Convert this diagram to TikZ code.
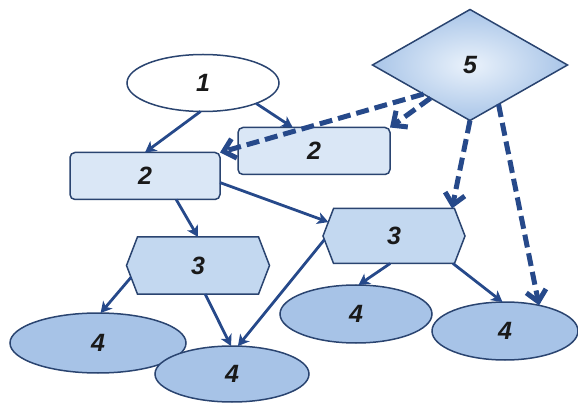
\documentclass[tikz,border=0pt]{standalone}
\usepackage{fontspec}
\setmainfont{Liberation Sans}
\usetikzlibrary{shapes.geometric,shapes.symbols,arrows.meta,calc}
\definecolor{ln}{HTML}{26498A}
\definecolor{edge}{HTML}{2A4470}
\definecolor{rectfill}{HTML}{DAE7F6}
\definecolor{hexfill}{HTML}{C3D8F0}
\definecolor{ellfill}{HTML}{A7C3E7}
\definecolor{diaout}{HTML}{A9C5E8}
\definecolor{diain}{HTML}{EAF2FB}
\tikzset{
  every node/.style={font=\fontsize{25}{25}\selectfont\bfseries\itshape, text=black!90, outer sep=0pt},
  shapeline/.style={draw=edge, line width=1.5pt},
  oval/.style={shapeline, ellipse, inner sep=0pt},
  box/.style={shapeline, rectangle, rounded corners=5pt, fill=rectfill, inner sep=0pt},
  hexa/.style={shapeline, signal, signal to=east and west, signal pointer angle=138, fill=hexfill, inner sep=0pt},
  rhomb/.style={shapeline, diamond, inner sep=0pt, inner color=diain, outer color=diaout},
  link/.style={draw=ln, line width=2.8pt, -{Stealth[length=11pt,width=12pt,inset=3pt]}},
  dlink/.style={draw=ln, line width=5pt, dash pattern=on 13pt off 6pt, -{Straight Barb[length=11pt,width=20pt,line width=5pt]}},
}
\begin{document}
\begin{tikzpicture}[x=1pt,y=-1pt]
\useasboundingbox (0,0) rectangle (578,403);
% nodes
\node[oval, fill=white, minimum width=152pt, minimum height=57pt] (e1) at (203,83) {1};
\node[rhomb, minimum width=195pt, minimum height=111pt] (d5) at (470,65) {5};
\node[box, minimum width=152pt, minimum height=47pt] (r2b) at (314,151) {2};
\node[box, minimum width=150pt, minimum height=47pt] (r2a) at (145,176) {2};
\node[hexa, minimum width=143pt, minimum height=57pt] (h3a) at (198,265.5) {3};
\node[hexa, minimum width=142pt, minimum height=55pt] (h3b) at (394,236) {3};
\node[oval, fill=ellfill, minimum width=176pt, minimum height=60pt] (e4a) at (98,343) {4};
\node[oval, fill=ellfill, minimum width=154pt, minimum height=56pt] (e4b) at (232,374) {4};
\node[oval, fill=ellfill, minimum width=152pt, minimum height=58pt] (e4c) at (356,314) {4};
\node[oval, fill=ellfill, minimum width=146pt, minimum height=58pt] (e4d) at (505,331) {4};
% solid connectors
\draw[link] (e1.265) -- (r2a.north);
\draw[link] (e1.-21) -- ($(r2b.north west)!0.36!(r2b.north east)$);
\draw[link] (r2a.-37) -- (h3a.north);
\draw[link] (r2a.-5) -- (h3b.168);
\draw[link] (h3a.190) -- (e4a.85);
\draw[link] (h3a.-76) -- (e4b.92);
\draw[link] (h3b.183) -- (e4b.78);
\draw[link] (h3b.-98) -- (e4c.85);
\draw[link] (h3b.-25) -- (e4d.95);
% dashed connectors
\draw[dlink] (d5.212) -- (r2a.north east);
\draw[dlink] (d5.220) -- (r2b.north east);
\draw[dlink] (d5.south) -- ($(h3b.north)+(58,0)$);
\draw[dlink] (d5.-54) -- (e4d.37);
\end{tikzpicture}
\end{document}
